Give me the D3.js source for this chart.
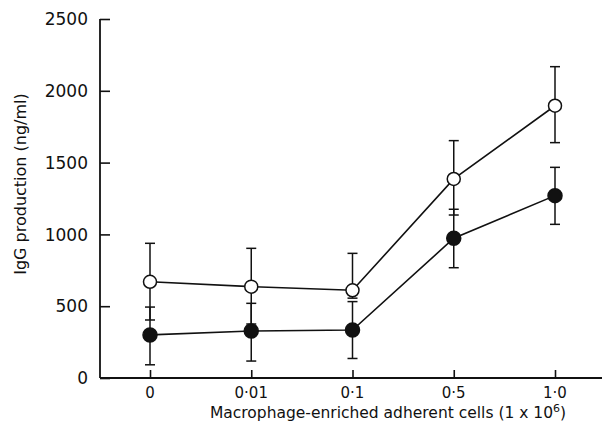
<!DOCTYPE html>
<html>
<head>
<meta charset="utf-8">
<script src="https://cdn.jsdelivr.net/npm/d3@7"></script>
<style>
  body { margin: 0; background: #fff; }
  svg text { font-family: "DejaVu Sans", sans-serif; fill: #111; }
</style>
</head>
<body>
<div id="chart"></div>
<script>
// data
var categories = ["0", "0·01", "0·1", "0·5", "1·0"];
var yTicks = [0, 500, 1000, 1500, 2000, 2500];

// open circles
var openMean = [670, 636, 611, 1386, 1896];
var openHigh = [938, 903, 868, 1653, 2168];
var openLow = [404, 376, 556, 1135, 1639];

// filled circles
var filledMean = [300, 327, 334, 973, 1270];
var filledHigh = [494, 520, 532, 1175, 1467];
var filledLow = [92, 118, 136, 768, 1070];

var width = 605,
    height = 435;

var x = d3.scalePoint()
    .domain(categories)
    .range([150, 555]);

var y = d3.scaleLinear()
    .domain([0, 2500])
    .range([378, 19]);

var svg = d3.select("#chart").append("svg")
    .attr("width", width)
    .attr("height", height);

// axes
var yAxis = d3.axisRight(y)
    .tickValues(yTicks)
    .tickSize(10)
    .tickFormat("");
svg.append("g")
    .attr("transform", "translate(100,0)")
    .call(yAxis)
    .call(function (g) { g.select(".domain").remove(); })
    .selectAll("line").attr("stroke", "#111").attr("stroke-width", 1.6);

svg.append("line")
    .attr("x1", 100).attr("x2", 100)
    .attr("y1", y(2500)).attr("y2", y(0))
    .attr("stroke", "#111").attr("stroke-width", 1.8);

svg.append("line")
    .attr("x1", 100).attr("x2", 602)
    .attr("y1", y(0)).attr("y2", y(0))
    .attr("stroke", "#111").attr("stroke-width", 1.8);

var xAxis = d3.axisTop(x)
    .tickSize(8)
    .tickFormat("");
svg.append("g")
    .attr("transform", "translate(0," + y(0) + ")")
    .call(xAxis)
    .call(function (g) { g.select(".domain").remove(); })
    .selectAll("line").attr("stroke", "#111").attr("stroke-width", 1.6);

// tick labels
svg.selectAll("text.ylab")
    .data(yTicks)
    .enter().append("text")
    .attr("class", "ylab")
    .attr("x", 88)
    .attr("y", function (d) { return y(d); })
    .attr("dy", "0.36em")
    .attr("text-anchor", "end")
    .attr("font-size", 17)
    .text(function (d) { return d; });

svg.selectAll("text.xlab")
    .data(categories)
    .enter().append("text")
    .attr("class", "xlab")
    .attr("x", function (d) { return x(d); })
    .attr("y", 398)
    .attr("text-anchor", "middle")
    .attr("font-size", 15)
    .text(function (d) { return d; });

// axis titles
var xt = svg.append("text")
    .attr("x", 388)
    .attr("y", 418)
    .attr("text-anchor", "middle")
    .attr("font-size", 15.5)
    .text("Macrophage-enriched adherent cells (1 x 10");
xt.append("tspan")
    .attr("dy", -6)
    .attr("font-size", 11)
    .text("6");
xt.append("tspan")
    .attr("dy", 6)
    .text(")");

svg.append("text")
    .attr("transform", "translate(26,184) rotate(-90)")
    .attr("text-anchor", "middle")
    .attr("font-size", 16)
    .text("IgG production (ng/ml)");

// error bars
function errorBars(mean, hi, lo, cls) {
    var g = svg.append("g").attr("class", cls);
    var data = categories.map(function (c, i) {
        return { c: c, hi: hi[i], lo: lo[i] };
    });
    g.selectAll("line.v").data(data).enter().append("line")
        .attr("x1", function (d) { return x(d.c); })
        .attr("x2", function (d) { return x(d.c); })
        .attr("y1", function (d) { return y(d.hi); })
        .attr("y2", function (d) { return y(d.lo); })
        .attr("stroke", "#111").attr("stroke-width", 1.5);
    ["hi", "lo"].forEach(function (k) {
        g.selectAll("line." + k).data(data).enter().append("line")
            .attr("x1", function (d) { return x(d.c) - 5; })
            .attr("x2", function (d) { return x(d.c) + 5; })
            .attr("y1", function (d) { return y(d[k]); })
            .attr("y2", function (d) { return y(d[k]); })
            .attr("stroke", "#111").attr("stroke-width", 1.5);
    });
}
errorBars(openMean, openHigh, openLow, "openErr");
errorBars(filledMean, filledHigh, filledLow, "filledErr");

var line = d3.line()
    .x(function (d) { return x(d.c); })
    .y(function (d) { return y(d.v); });

function series(vals, filled) {
    var data = categories.map(function (c, i) { return { c: c, v: vals[i] }; });
    svg.append("path")
        .datum(data)
        .attr("d", line)
        .attr("fill", "none")
        .attr("stroke", "#111")
        .attr("stroke-width", 1.6);
    svg.selectAll(null).data(data).enter().append("circle")
        .attr("cx", function (d) { return x(d.c); })
        .attr("cy", function (d) { return y(d.v); })
        .attr("r", filled ? 7 : 6.5)
        .attr("fill", filled ? "#111" : "#fff")
        .attr("stroke", "#111")
        .attr("stroke-width", 1.5);
}
series(openMean, false);
series(filledMean, true);
</script>
</body>
</html>
